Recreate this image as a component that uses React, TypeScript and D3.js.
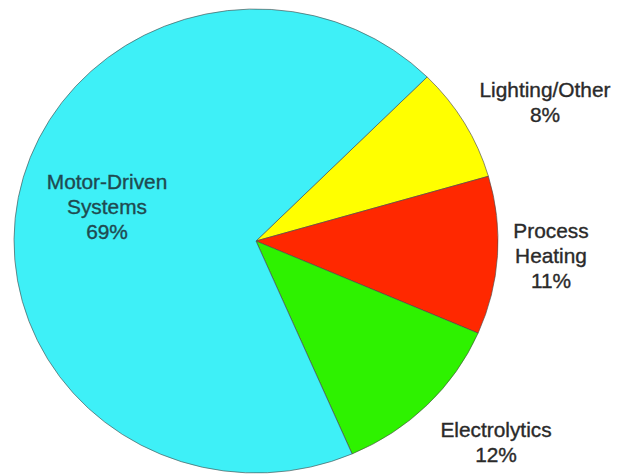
import React from "react";
import * as d3 from "d3";

const categories = ["Lighting/Other", "Process Heating", "Electrolytics", "Motor-Driven Systems"];
const values = [8, 11, 12, 69];
const labelLines = [
  ["Lighting/Other", "8%"],
  ["Process", "Heating", "11%"],
  ["Electrolytics", "12%"],
  ["Motor-Driven", "Systems", "69%"],
];

const colors = ["#FFFF00", "#FF2800", "#2EF200", "#3EF0F7"];
// label anchor (center of first line baseline), layout only
const labelLayout = [
  { x: 545, y: 97 },
  { x: 551, y: 238 },
  { x: 496, y: 437 },
  { x: 107, y: 189 },
];

const W = 617;
const H = 475;
const cx = 256;
const cy = 241;
const R = 232;
const sx = 242 / 232;
const lineH = 25;

export default function App() {
  const data = categories.map((c, i) => ({ name: c, value: values[i], i }));
  const pie = d3
    .pie<any>()
    .sort(null)
    .value((d: any) => d.value)
    .startAngle(Math.PI / 4)
    .endAngle(Math.PI / 4 + 2 * Math.PI);
  const arcs = pie(data);
  const arc = d3.arc<any>().innerRadius(0).outerRadius(R);

  return (
    <svg
      width={W}
      height={H}
      style={{ position: "absolute", left: 0, top: 0, background: "#fff", display: "block" }}
    >
      <rect x={0} y={0} width={W} height={H} fill="#fff" />
      <g transform={`translate(${cx},${cy}) scale(${sx},1)`}>
        {arcs.map((a, i) => (
          <path
            key={i}
            d={arc(a) as string}
            fill={colors[i]}
            stroke="#4a4a4a"
            strokeOpacity={0.7}
            strokeWidth={0.9}
            vectorEffect="non-scaling-stroke"
          />
        ))}
      </g>
      {labelLines.map((lines, i) => (
        <g key={i} transform={`translate(${labelLayout[i].x},${labelLayout[i].y}) scale(${sx},1)`}>
          <text
            textAnchor="middle"
            fontFamily="Liberation Sans, Arial, sans-serif"
            fontSize={20}
            fill={i === 3 ? "#1f4a50" : "#2a2a2a"}
            stroke={i === 3 ? "#1f4a50" : "#2a2a2a"}
            strokeWidth={0.35}
          >
            {lines.map((l, j) => (
              <tspan key={j} x={0} y={j * lineH}>
                {l}
              </tspan>
            ))}
          </text>
        </g>
      ))}
    </svg>
  );
}
